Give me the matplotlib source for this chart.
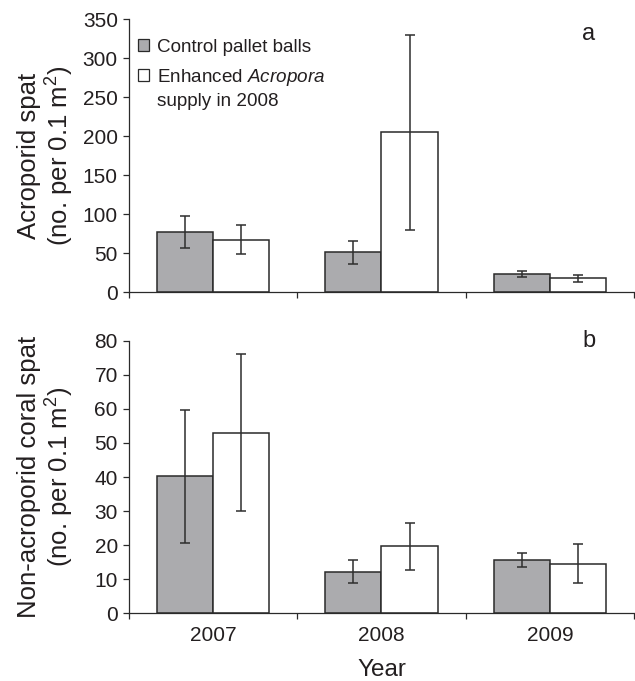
import matplotlib
matplotlib.use("Agg")
import matplotlib.pyplot as plt
from matplotlib.patches import Patch
import numpy as np

# values (mean +/- error)
years = ["2007", "2008", "2009"]

acro_control = [77, 51, 23.5]
acro_control_err = [20, 15, 3.6]
acro_enhanced = [67, 205, 17.5]
acro_enhanced_err = [18.5, 125, 4.5]

non_control = [40.2, 12.2, 15.7]
non_control_err = [19.5, 3.4, 2.1]
non_enhanced = [53, 19.7, 14.6]
non_enhanced_err = [23, 6.9, 5.6]

plt.rcParams['font.family'] = ['Liberation Sans', 'DejaVu Sans']
plt.rcParams['mathtext.fontset'] = 'custom'
plt.rcParams['mathtext.rm'] = 'Liberation Sans'
plt.rcParams['mathtext.it'] = 'Liberation Sans:italic'

text_col = '#231f20'
edge_col = '#2a2a2a'
gray = '#ababae'

fig = plt.figure(figsize=(6.35, 6.81), dpi=100)
ax_a = fig.add_axes([0.2031, 0.5712, 0.7953, 0.4005])
ax_b = fig.add_axes([0.2031, 0.0994, 0.7953, 0.4003])

x = np.arange(len(years))
w = 1 / 3


def draw_panel(ax, ctrl, ctrl_err, enh, enh_err):
    ax.bar(x - w / 2, ctrl, w, color=gray, edgecolor=edge_col, linewidth=1.1, zorder=2)
    ax.bar(x + w / 2, enh, w, color='white', edgecolor=edge_col, linewidth=1.1, zorder=2)
    ax.errorbar(x - w / 2, ctrl, yerr=ctrl_err, fmt='none', ecolor='#2e2e2e',
                elinewidth=1.1, capsize=3.3, capthick=1.1, zorder=3)
    ax.errorbar(x + w / 2, enh, yerr=enh_err, fmt='none', ecolor='#2e2e2e',
                elinewidth=1.1, capsize=3.3, capthick=1.1, zorder=3)
    ax.set_xlim(-0.5, 2.5)
    for s in ['top', 'right']:
        ax.spines[s].set_visible(False)
    for s in ['left', 'bottom']:
        ax.spines[s].set_linewidth(0.9)
        ax.spines[s].set_color(edge_col)
    # boundary ticks (no labels), category labels on minor ticks
    ax.set_xticks([-0.5, 0.5, 1.5, 2.5])
    ax.set_xticklabels([])
    ax.set_xticks(x, minor=True)
    ax.tick_params(axis='x', which='major', direction='out', length=4, width=0.9, color=edge_col)
    ax.tick_params(axis='x', which='minor', length=0, pad=9, labelsize=15, labelcolor=text_col)
    ax.tick_params(axis='y', direction='out', length=4, width=0.9, color=edge_col,
                   labelsize=15, labelcolor=text_col, pad=4)


draw_panel(ax_a, acro_control, acro_control_err, acro_enhanced, acro_enhanced_err)
draw_panel(ax_b, non_control, non_control_err, non_enhanced, non_enhanced_err)

ax_a.set_ylim(0, 350)
ax_a.set_yticks(range(0, 351, 50))
ax_b.set_ylim(0, 80)
ax_b.set_yticks(range(0, 81, 10))
ax_b.set_xticklabels(years, minor=True)

ax_a.set_ylabel("Acroporid spat\n(no. per 0.1 m$^2$)", fontsize=18.5, color=text_col,
                linespacing=1.15)
ax_b.set_ylabel("Non-acroporid coral spat\n(no. per 0.1 m$^2$)", fontsize=18.5,
                color=text_col, linespacing=1.15)
ax_a.yaxis.set_label_coords(-0.104, 0.5)
ax_b.yaxis.set_label_coords(-0.104, 0.5)
ax_b.set_xlabel("Year", fontsize=17.5, color=text_col, labelpad=10)

ax_a.text(0.911, 0.945, "a", transform=ax_a.transAxes, fontsize=17, color=text_col,
          ha='center', va='center')
ax_b.text(0.911, 1.0, "b", transform=ax_b.transAxes, fontsize=17, color=text_col,
          ha='center', va='center')

# legend
handles = [Patch(facecolor=gray, edgecolor=edge_col, linewidth=0.9),
           Patch(facecolor='white', edgecolor=edge_col, linewidth=0.9)]
labels = ["Control pallet balls", r"Enhanced $\mathit{Acropora}$"]
ax_a.legend(handles, labels, loc='upper left', bbox_to_anchor=(0.0178, 0.929),
            frameon=False, fontsize=13.6, handlelength=0.58, handleheight=0.58,
            handletextpad=0.45, borderpad=0, borderaxespad=0, labelspacing=0.6,
            labelcolor=text_col)
ax_a.text(0.0554, 0.70, "supply in 2008", transform=ax_a.transAxes, fontsize=13.6,
          color=text_col, ha='left', va='center')

fig.savefig("out.png", dpi=100)
